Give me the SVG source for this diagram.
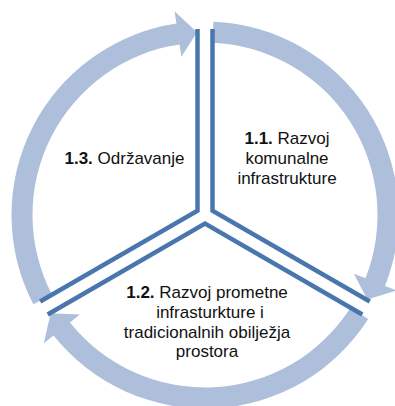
<svg xmlns="http://www.w3.org/2000/svg" width="395" height="406" viewBox="0 0 395 406">
  <defs>
    <style>
      .ring { fill: #aebfdc; stroke: none; }
      .div { fill: none; stroke: #4a76ae; stroke-width: 4.5; stroke-linejoin: miter; stroke-linecap: butt; }
      .lbl { font-family: "Liberation Sans", Arial, sans-serif; font-size: 17px; fill: #111; text-anchor: middle; }
      .b { font-weight: bold; }
    </style>
    <path id="arrow" d="M 213.44 21.68 A 193.5 193.5 0 0 1 385.04 285.92 L 396.67 290.50 L 367.32 299.50 L 353.87 273.64 L 365.50 278.22 A 172.5 172.5 0 0 0 212.52 42.66 Z"/>
    <polyline id="sector" points="212.5,29 212.5,210.67 369.8,301.5"/>
  </defs>
  <rect width="395" height="406" fill="#ffffff"/>
  <g id="cycle-arrows">
    <use href="#arrow" class="ring"/>
    <use href="#arrow" class="ring" transform="rotate(120 205 215)"/>
    <use href="#arrow" class="ring" transform="rotate(240 205 215)"/>
  </g>
  <g id="node-1-1">
    <use href="#sector" class="div"/>
    <text class="lbl" x="287" y="144"><tspan class="b">1.1.</tspan> Razvoj</text>
    <text class="lbl" x="287" y="164">komunalne</text>
    <text class="lbl" x="287" y="184">infrastrukture</text>
  </g>
  <g id="node-1-2">
    <use href="#sector" class="div" transform="rotate(120 205 215)"/>
    <text class="lbl" x="207" y="298"><tspan class="b">1.2.</tspan> Razvoj prometne</text>
    <text class="lbl" x="210" y="318">infrasturkture i</text>
    <text class="lbl" x="207" y="338">tradicionalnih obilježja</text>
    <text class="lbl" x="207" y="357">prostora</text>
  </g>
  <g id="node-1-3">
    <use href="#sector" class="div" transform="rotate(240 205 215)"/>
    <text class="lbl" x="124.5" y="164"><tspan class="b">1.3.</tspan> Održavanje</text>
  </g>
</svg>
